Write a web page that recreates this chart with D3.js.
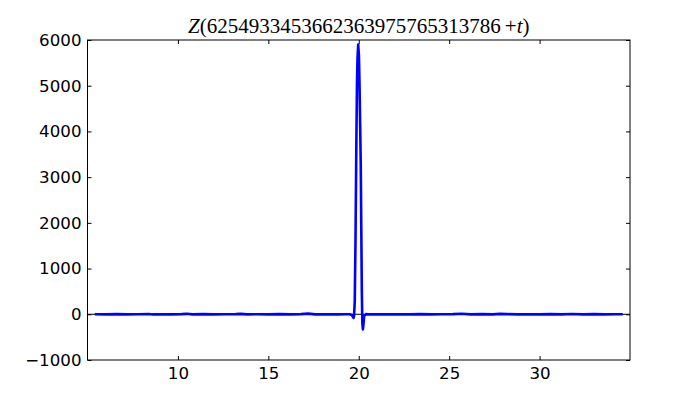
<!DOCTYPE html>
<html>
<head>
<meta charset="utf-8">
<script src="https://cdn.jsdelivr.net/npm/d3@7"></script>
<style>
  body { margin: 0; background: #fff; }
  .tick text { font-family: "DejaVu Sans", sans-serif; font-size: 16.67px; fill: #000; }
</style>
</head>
<body>
<div id="main"></div>
<script>
// t samples and Z values
const tValues = [
    5.4, 6.0, 6.6, 7.2, 7.8, 8.4, 8.6, 9.0, 9.6, 10.2, 10.5, 10.8, 11.4, 12.0, 12.6, 13.2, 13.5, 13.8,
    14.4, 15.0, 15.6, 16.2, 16.8, 17.2, 17.6, 18.2, 18.8, 19.3,
    19.50, 19.62, 19.68, 19.71, 19.74, 19.78, 19.82, 19.86, 19.90, 19.93, 19.97, 20.01, 20.04, 20.08,
    20.11, 20.14, 20.17, 20.20, 20.23, 20.26, 20.30, 20.40,
    20.5, 21.0, 21.6, 22.2, 22.8, 23.4, 24.0, 24.6, 25.2, 25.7, 26.2, 26.8, 27.4, 27.8, 28.2, 28.8,
    29.4, 30.0, 30.6, 31.2, 31.8, 32.4, 33.0, 33.6, 34.2, 34.6
];
const zValues = [
    1, -2, 3, -1, 2, 6, -3, 2, -2, 4, 10, -2, 3, -3, 2, 4, 9, -2,
    2, -1, 3, -2, 3, 14, -1, 2, -3, 1,
    0, -15, -60, -80, -40, 300, 1600, 3400, 5000, 5600, 5900, 5650, 5100, 4100,
    3300, 1900, 500, -200, -330, -220, -30, 3,
    -2, 2, -3, 2, -1, 3, -2, 2, 3, 12, -2, 3, -2, 8, 4, -3,
    2, -2, 3, -2, 5, -1, 3, -2, 1, 0
];
const xTicks = [10, 15, 20, 25, 30];
const yTicks = [-1000, 0, 1000, 2000, 3000, 4000, 5000, 6000];
const xDomain = [5, 35];
const yDomain = [-1000, 6000];
const titleDigits = "6254933453662363975765313786";

const ctx = { w: 700, h: 400, left: 87.5, right: 630, top: 40, bottom: 360 };

const svg = d3.select("#main").append("svg")
    .attr("width", ctx.w)
    .attr("height", ctx.h);

const x = d3.scaleLinear().domain(xDomain).range([ctx.left, ctx.right]);
const y = d3.scaleLinear().domain(yDomain).range([ctx.bottom, ctx.top]);

const fmt = (d) => d < 0 ? "\u2212" + Math.abs(d) : String(d);

// zero line under the data
svg.append("line")
    .attr("x1", x(xDomain[0])).attr("x2", x(xDomain[1]))
    .attr("y1", y(0)).attr("y2", y(0))
    .attr("stroke", "#000").attr("stroke-width", 1);

const pts = tValues.map((t, i) => [t, zValues[i]]);
svg.append("path")
    .datum(pts)
    .attr("fill", "none")
    .attr("stroke", "#0000ff")
    .attr("stroke-width", 2.6)
    .attr("stroke-linejoin", "round")
    .attr("d", d3.line().x((d) => x(d[0])).y((d) => y(d[1])));

// axes, classic inward ticks on all sides
svg.append("g")
    .attr("transform", `translate(0,${ctx.bottom})`)
    .call(d3.axisBottom(x).tickValues(xTicks).tickSizeInner(-4).tickSizeOuter(0).tickPadding(7))
    .call((g) => g.select(".domain").remove());
svg.append("g")
    .attr("transform", `translate(0,${ctx.top})`)
    .call(d3.axisTop(x).tickValues(xTicks).tickSizeInner(-4).tickSizeOuter(0).tickFormat(""))
    .call((g) => g.select(".domain").remove());
svg.append("g")
    .attr("transform", `translate(${ctx.left},0)`)
    .call(d3.axisLeft(y).tickValues(yTicks).tickSizeInner(-4).tickSizeOuter(0).tickPadding(6).tickFormat(fmt))
    .call((g) => g.select(".domain").remove());
svg.append("g")
    .attr("transform", `translate(${ctx.right},0)`)
    .call(d3.axisRight(y).tickValues(yTicks).tickSizeInner(-4).tickSizeOuter(0).tickFormat(""))
    .call((g) => g.select(".domain").remove());

svg.selectAll(".tick line").attr("stroke", "#000");

svg.append("rect")
    .attr("x", ctx.left).attr("y", ctx.top)
    .attr("width", ctx.right - ctx.left).attr("height", ctx.bottom - ctx.top)
    .attr("fill", "none").attr("stroke", "#000").attr("stroke-width", 1);

// title
const title = svg.append("text")
    .attr("x", (ctx.left + ctx.right) / 2)
    .attr("y", 33)
    .attr("text-anchor", "middle")
    .style("font-family", "'Liberation Serif', serif")
    .style("font-size", "21px");
title.append("tspan").style("font-style", "italic").text("Z");
title.append("tspan").text("(" + titleDigits + "\u2009+");
title.append("tspan").style("font-style", "italic").text("t");
title.append("tspan").text(")");
</script>
</body>
</html>
